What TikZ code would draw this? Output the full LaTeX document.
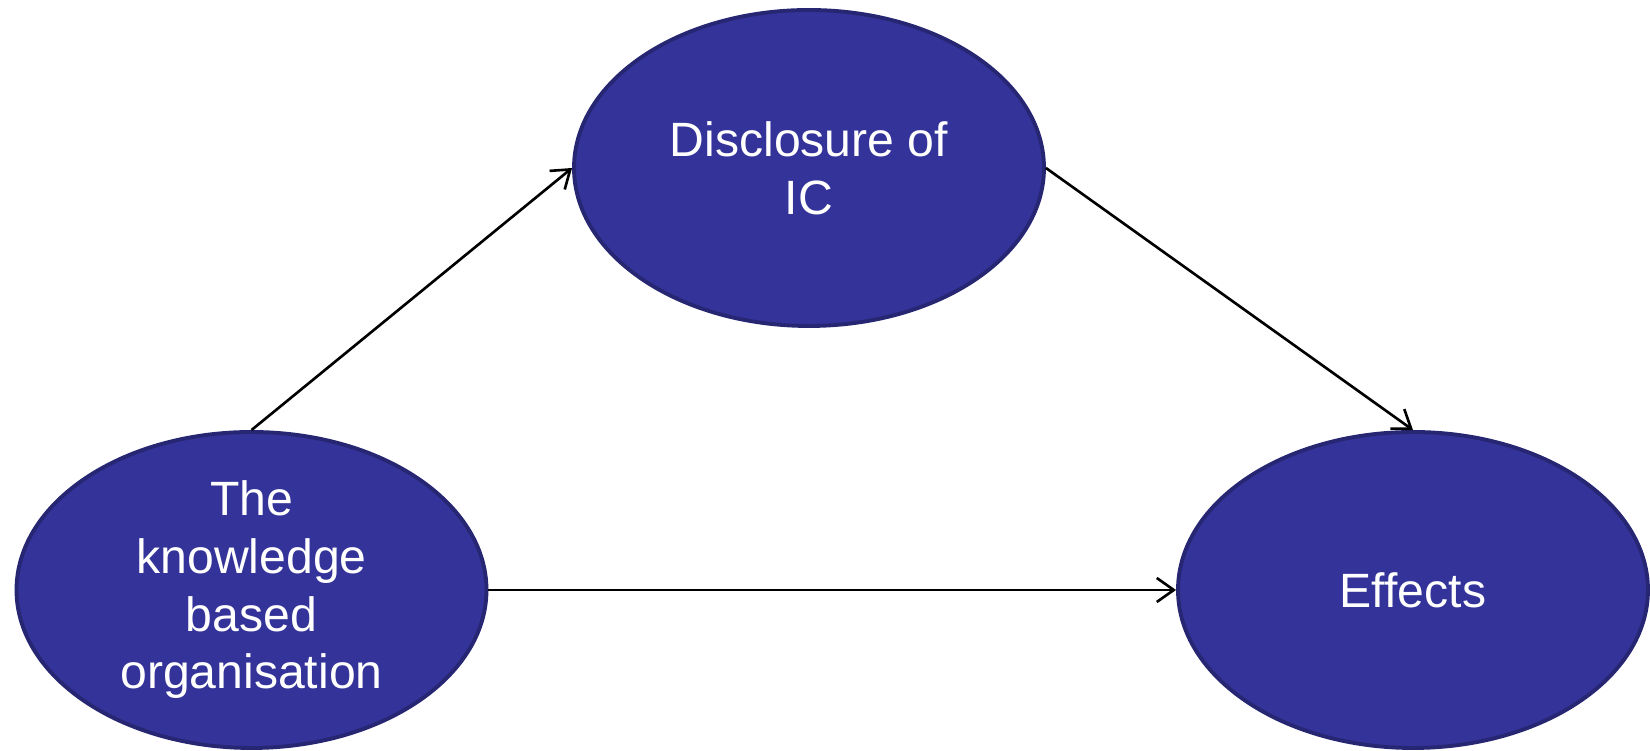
\documentclass[tikz,border=0pt]{standalone}
\usepackage{fontspec}
\setmainfont{Liberation Sans}
\usepackage{tikz}
\usetikzlibrary{positioning,arrows.meta,shapes.geometric}
\definecolor{ovalfill}{HTML}{333399}
\definecolor{ovaledge}{HTML}{262673}
\tikzset{
  flowarrow/.style={-{Straight Barb[length=1.7mm, width=2.4mm]}, line width=0.75pt, black},
  ovalnode/.style={ellipse, draw=ovaledge, line width=1.1pt, fill=ovalfill, text=white, inner sep=0pt, minimum width=4.7cm, minimum height=3.16cm, align=center, font=\fontsize{13.7}{16.4}\selectfont}
}

\begin{document}
\begin{tikzpicture}
      \useasboundingbox (0,0) rectangle (16.5,7.51);
      \node[ovalnode] (disc) at (8.09,5.83) {Disclosure of\\IC};
      \node[ovalnode] (kbo) at (2.515,1.61) {The\\knowledge\\based\\organisation};
      \node[ovalnode] (eff) at (14.13,1.61) {Effects};
      \draw[flowarrow] (kbo.north) -- (disc.west);
      \draw[flowarrow] (disc.east) -- (eff.north);
      \draw[flowarrow] (kbo.east) -- (eff.west);
    \end{tikzpicture}
\end{document}
